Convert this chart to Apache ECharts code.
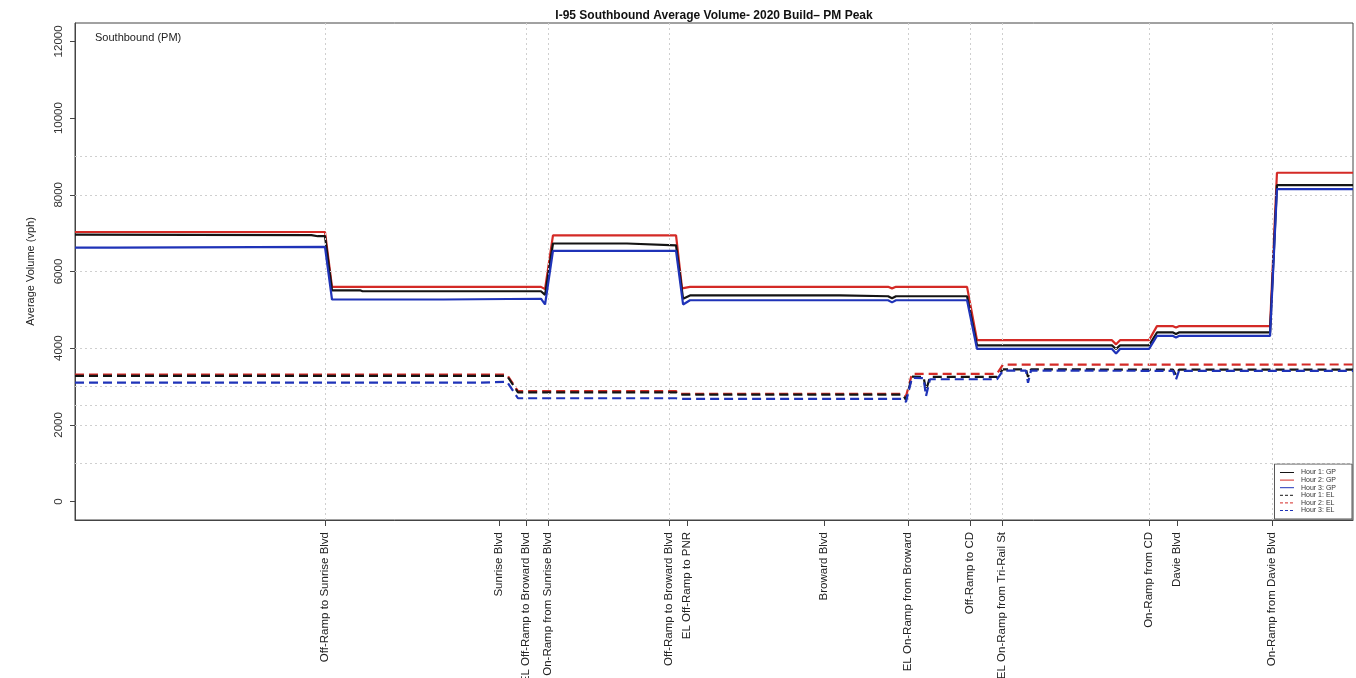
<!DOCTYPE html>
<html>
<head>
<meta charset="utf-8">
<script src="https://cdn.jsdelivr.net/npm/echarts@6/dist/echarts.min.js"></script>
<style>
  html, body { margin: 0; padding: 0; background: #ffffff; }
  #chart { width: 1356px; height: 678px; }
</style>
</head>
<body>
<div id="chart"></div>
<script>
// Corridor position runs 0..1000 from the north end of the study segment to the south end.
const stationPos = [195.6, 331.8, 352.9, 370.1, 464.8, 478.9, 586.1, 651.8, 700.3, 725.4, 840.4, 862.3, 936.6];
const stationNames = [
  'Off-Ramp to Sunrise Blvd', 'Sunrise Blvd', 'EL Off-Ramp to Broward Blvd', 'On-Ramp from Sunrise Blvd',
  'Off-Ramp to Broward Blvd', 'EL Off-Ramp to PNR', 'Broward Blvd', 'EL On-Ramp from Broward',
  'Off-Ramp to CD', 'EL On-Ramp from Tri-Rail St', 'On-Ramp from CD', 'Davie Blvd', 'On-Ramp from Davie Blvd'
];
// Ramp locations get a vertical reference line
const rampGridPos = [195.6, 352.9, 370.1, 464.8, 651.8, 700.3, 725.4, 840.4, 936.6];
const volumeGridLevels = [1000, 2000, 2500, 3000, 4000, 6000, 8000, 9000];
const yTicks = [0, 2000, 4000, 6000, 8000, 10000, 12000];

// General purpose lanes, [position, vph]
const gpHour1 = [[0,6960],[185,6950],[190,6920],[195.6,6920],[201.1,5510],[223,5510],[225,5485],[364.6,5485],[367.8,5390],[374.0,6730],[431.9,6730],[433,6680],[470.3,6680],[475.8,5290],[481.2,5375],[598.6,5375],[600,5355],[636.2,5355],[639.3,5300],[642.4,5355],[698.0,5355],[705.8,4075],[811.4,4075],[814.6,3980],[817.7,4075],[840.4,4075],[846.6,4410],[859.2,4410],[861.5,4370],[863.8,4410],[935.1,4410],[940.5,8250],[1000,8250]];
const gpHour2 = [[0,7030],[195.6,7030],[201.1,5600],[364.6,5600],[367.8,5540],[374.0,6940],[470.3,6940],[475.0,5560],[481.2,5600],[636.2,5600],[639.3,5560],[642.4,5600],[698.0,5600],[705.8,4210],[811.4,4210],[814.6,4100],[817.7,4210],[840.4,4210],[846.6,4575],[859.2,4575],[861.5,4540],[863.8,4575],[935.1,4575],[940.5,8575],[1000,8575]];
const gpHour3 = [[0,6620],[31,6620],[32,6640],[195.6,6640],[201.1,5270],[288,5270],[289,5290],[364.6,5290],[367.8,5140],[374.0,6540],[470.3,6540],[475.8,5140],[481.2,5250],[636.2,5250],[639.3,5195],[642.4,5250],[698.0,5250],[705.8,3980],[811.4,3980],[814.6,3860],[817.7,3980],[840.4,3980],[846.6,4320],[859.2,4320],[861.5,4280],[863.8,4320],[935.1,4320],[940.5,8150],[1000,8150]];

// Express lanes, [position, vph]
const elHour1 = [[0,3280],[338.0,3280],[346.6,2850],[470.3,2850],[472.5,2790],[647.9,2790],[650.2,2650],[654.9,3260],[664,3250],[665.9,2900],[669.0,3250],[721.4,3250],[726.1,3450],[744.1,3450],[745.7,3250],[748.0,3450],[859.2,3440],[861.5,3300],[863.8,3440],[1000,3440]];
const elHour2 = [[0,3310],[338.0,3310],[346.6,2880],[470.3,2880],[472.5,2810],[647.9,2810],[650.2,2740],[654.9,3330],[721.4,3330],[726.1,3570],[1000,3575]];
const elHour3 = [[0,3100],[314.6,3100],[316,3125],[338.0,3125],[346.6,2695],[470.3,2695],[472.5,2680],[647.9,2680],[650.2,2600],[654.9,3230],[664,3220],[665.9,2750],[669.0,3190],[721.4,3190],[726.1,3415],[744.1,3415],[745.7,3100],[748.0,3415],[859.2,3410],[861.5,3180],[863.8,3410],[1000,3410]];

const FONT = '"Liberation Sans", Arial, Helvetica, sans-serif';
const BLACK = '#141414';
const RED = '#d42a26';
const BLUE = '#1f33b8';

function volumeLine(name, data, color, dashed, z) {
  return {
    name: name,
    type: 'line',
    data: data,
    symbol: 'none',
    showSymbol: false,
    z: z,
    lineStyle: { color: color, width: 2.2, type: dashed ? [9, 5] : 'solid' },
    itemStyle: { color: color },
    emphasis: { disabled: true },
    animation: false
  };
}

function legendEntry(name, dashed) {
  return { name: name, lineStyle: { width: 1, type: dashed ? [3, 2] : 'solid' } };
}

function stationLabel(v) {
  const i = stationPos.findIndex(p => Math.abs(p - v) < 1e-6);
  return i >= 0 ? stationNames[i] : '';
}

const chart = echarts.init(document.getElementById('chart'), null, { renderer: 'canvas' });

chart.setOption({
  animation: false,
  backgroundColor: '#ffffff',
  textStyle: { fontFamily: FONT },
  grid: {
    left: 75, right: 3, top: 23, bottom: 158,
    outerBoundsMode: 'none',
    containLabel: false,
    show: true, borderColor: '#444', borderWidth: 1, backgroundColor: 'transparent'
  },
  graphic: [
    {
      type: 'text', x: 714, y: 16,
      style: {
        text: 'I-95 Southbound Average Volume- 2020 Build\u2013 PM Peak',
        font: 'bold 12px ' + FONT, fill: '#111', align: 'center', verticalAlign: 'middle'
      }
    },
    {
      type: 'text', x: 95, y: 38,
      style: {
        text: 'Southbound (PM)', font: '11px ' + FONT, fill: '#222', align: 'left', verticalAlign: 'middle'
      }
    }
  ],
  legend: {
    orient: 'vertical',
    right: 4, top: 464,
    itemWidth: 14, itemHeight: 5, itemGap: 0.6,
    padding: [5, 16, 5, 5],
    borderColor: '#555', borderWidth: 1, backgroundColor: '#ffffff',
    selectedMode: false,
    itemStyle: { opacity: 0, borderWidth: 0 },
    lineStyle: { width: 1 },
    textStyle: { fontSize: 7, lineHeight: 6, color: '#333', fontFamily: FONT, padding: [0, 0, 0, 2] },
    data: [
      legendEntry('Hour 1: GP', false), legendEntry('Hour 2: GP', false), legendEntry('Hour 3: GP', false),
      legendEntry('Hour 1: EL', true), legendEntry('Hour 2: EL', true), legendEntry('Hour 3: EL', true)
    ]
  },
  xAxis: {
    type: 'value', min: 0, max: 1000,
    axisLine: { show: true, onZero: false, lineStyle: { color: '#444', width: 1 } },
    axisTick: { show: true, customValues: stationPos, length: 6, lineStyle: { color: '#444' } },
    axisLabel: {
      customValues: stationPos, rotate: 90, margin: 12, formatter: stationLabel,
      fontSize: 11.5, color: '#222', fontFamily: FONT
    },
    splitLine: { show: false }
  },
  yAxis: {
    type: 'value', min: -480, max: 12480,
    name: 'Average Volume (vph)', nameLocation: 'middle', nameGap: 39,
    nameTextStyle: { fontSize: 11, color: '#222', fontFamily: FONT },
    axisLine: { show: true, lineStyle: { color: '#444', width: 1 } },
    axisTick: { show: true, customValues: yTicks, length: 5, lineStyle: { color: '#444' } },
    axisLabel: {
      customValues: yTicks, rotate: 90, margin: 10, fontSize: 11.5, color: '#333', fontFamily: FONT,
      formatter: v => String(v)
    },
    splitLine: { show: false }
  },
  series: [
    {
      type: 'line', data: [], z: 1, silent: true, animation: false,
      markLine: {
        silent: true, symbol: ['none', 'none'], animation: false,
        label: { show: false },
        lineStyle: { color: '#cfcfcf', type: [2, 3], width: 1 },
        emphasis: { disabled: true },
        data: rampGridPos.map(v => ({ xAxis: v })).concat(volumeGridLevels.map(v => ({ yAxis: v })))
      }
    },
    volumeLine('Hour 2: GP', gpHour2, RED, false, 3),
    volumeLine('Hour 1: GP', gpHour1, BLACK, false, 4),
    volumeLine('Hour 3: GP', gpHour3, BLUE, false, 5),
    volumeLine('Hour 2: EL', elHour2, RED, true, 3),
    volumeLine('Hour 1: EL', elHour1, BLACK, true, 4),
    volumeLine('Hour 3: EL', elHour3, BLUE, true, 5)
  ]
});
</script>
</body>
</html>
